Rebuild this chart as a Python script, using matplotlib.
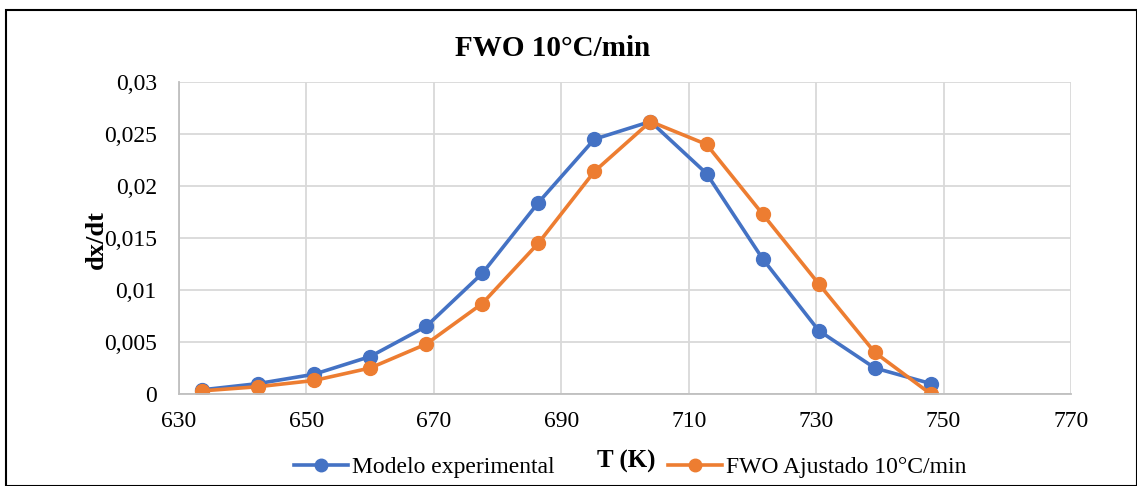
import matplotlib.pyplot as plt
from matplotlib.ticker import FuncFormatter

plt.rcParams['font.family'] = ['Liberation Serif', 'DejaVu Serif']

T = [633.6, 642.4, 651.2, 660.0, 668.8, 677.6, 686.4, 695.2, 704.0,
     712.8, 721.6, 730.4, 739.2, 748.0]
experimental = [0.0004, 0.0010, 0.0019, 0.0036, 0.0065, 0.0116, 0.0184,
                0.0245, 0.0262, 0.0212, 0.0130, 0.0061, 0.0025, 0.0010]
fwo = [0.0003, 0.0007, 0.0013, 0.0025, 0.0048, 0.0087, 0.0145,
       0.0214, 0.0262, 0.0240, 0.0173, 0.0106, 0.0040, 0.0000]

blue = '#4472c4'
orange = '#ed7d31'

fig = plt.figure(figsize=(11.37, 4.86), dpi=100)
ax = fig.add_axes([179/1137, 1 - 394/486, (1071-179)/1137, (394-82)/486])

ax.plot(T, experimental, '-o', color=blue, lw=2.6, ms=10, label='Modelo experimental')
ax.plot(T, fwo, '-o', color=orange, lw=2.6, ms=10, label='FWO Ajustado 10°C/min')

ax.set_xlim(630, 770)
ax.set_ylim(0, 0.03)
ax.set_xticks(range(630, 771, 20))
ax.set_yticks([0, 0.005, 0.01, 0.015, 0.02, 0.025, 0.03])
ax.yaxis.set_major_formatter(FuncFormatter(lambda v, p: ('%g' % round(v, 4)).replace('.', ',')))
ax.tick_params(axis='y', length=0, labelsize=17, pad=16)
ax.tick_params(axis='x', length=0, labelsize=17, pad=12)
ax.grid(True, color='#d9d9d9', lw=1.3)
ax.set_axisbelow(True)
for s in ['top', 'right']:
    ax.spines[s].set_visible(False)
for s in ['left', 'bottom']:
    ax.spines[s].set_color('#bfbfbf')
    ax.spines[s].set_linewidth(1.3)

fig.text(553/1137, 1 - 48/486, 'FWO 10°C/min', fontsize=21, fontweight='bold', ha='center', va='center')
fig.text(96/1137, 1 - 240/486, 'dx/dt', fontsize=19, fontweight='bold', ha='center', va='center',
         rotation=90)
fig.text(626/1137, 1 - 461/486, 'T (K)', fontsize=18, fontweight='bold', ha='center', va='center')

fig.legend(loc='center', bbox_to_anchor=(630/1137, 1 - 467/486), ncol=2, frameon=False,
           fontsize=17, handlelength=2.3, columnspacing=4.8, handletextpad=0.15, markerscale=0.9)

# outer border
fig.patches.append(plt.Rectangle((6/1137, 0), 1 - 6/1137, 1 - 10/486, transform=fig.transFigure,
                                 fill=False, edgecolor='black', lw=1.5))

fig.savefig('out.png', dpi=100)
